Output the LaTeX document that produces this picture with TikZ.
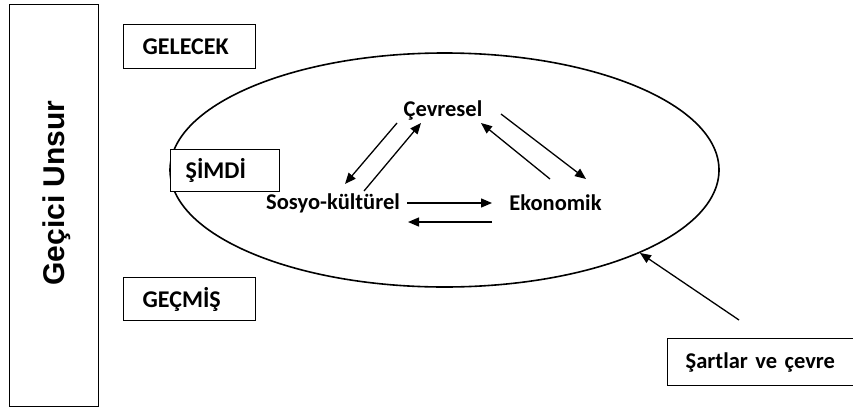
\documentclass[tikz,border=0pt]{standalone}
\usepackage{fontspec}
\setmainfont{Carlito}
\newfontfamily\arialfont{Liberation Sans}
\usetikzlibrary{arrows.meta,shapes.geometric,calc}
\begin{document}
\begin{tikzpicture}[x=1pt,y=-1pt,
  lbl/.style={draw,line width=1.4pt,fill=white,anchor=north west,align=left,inner ysep=0pt,
    font=\fontsize{24}{28}\selectfont\bfseries},
  inner/.style={inner sep=0pt,font=\fontsize{22.5}{26}\selectfont\bfseries},
  arr/.style={-{Triangle[length=11pt,width=9pt]},line width=1.3pt}]
\useasboundingbox (0,0) rectangle (853,410);
\node[draw,line width=1.4pt,minimum width=89pt,minimum height=402pt,anchor=north west,inner sep=0pt] (tall) at (9,4) {};
\node[rotate=90,font=\arialfont\fontsize{30}{34}\selectfont\bfseries] (gu) at (57,193) {Geçici Unsur};
\node[draw,line width=1.6pt,ellipse,minimum width=549pt,minimum height=234pt,inner sep=0pt] (ell) at (444.5,170) {};
\node[lbl,text width=94pt,inner xsep=19pt,minimum height=44pt] (gel) at (123,24) {GELECEK};
\node[lbl,text width=79pt,inner xsep=15pt,minimum height=42pt] (sim) at (170,149) {ŞİMDİ};
\node[lbl,text width=94pt,inner xsep=19pt,minimum height=43pt] (gec) at (123,277) {GEÇMİŞ};
\node[lbl,text width=170pt,inner xsep=18pt,minimum height=47pt,font=\fontsize{22.5}{26}\selectfont\bfseries] (sar) at (667,338) {Şartlar ve çevre};
\node[inner] (cev) at (443,110) {Çevresel};
\node[inner] (sos) at (333,203) {Sosyo-kültürel};
\node[inner] (eko) at (555.5,203) {Ekonomik};
\draw[arr] ($(cev.center)+(-46,13)$) -- ($(sos.center)+(12,-19)$);
\draw[arr] ($(sos.center)+(31,-12)$) -- ($(cev.center)+(-22,13)$);
\draw[arr] ($(cev.center)+(58,4)$) -- ($(eko.center)+(30.5,-24)$);
\draw[arr] ($(eko.center)+(-5.5,-24)$) -- ($(cev.center)+(38,13)$);
\draw[arr] ($(sos.center)+(74,0)$) -- ($(eko.center)+(-63.5,0)$);
\draw[arr] ($(eko.center)+(-63.5,19)$) -- ($(sos.center)+(75,19)$);
\coordinate (sarstart) at ($(sar.north west)+(72,-18)$);
\draw[arr] (sarstart) -- (ell.-23);
\end{tikzpicture}
\end{document}
